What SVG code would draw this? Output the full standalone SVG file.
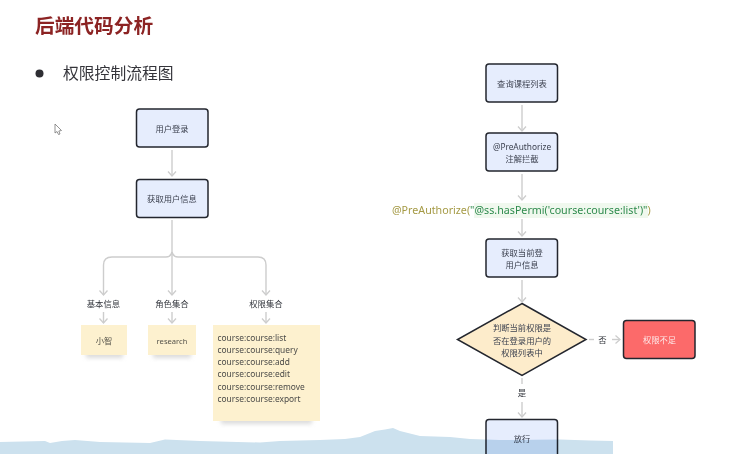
<svg xmlns="http://www.w3.org/2000/svg" width="754" height="454" viewBox="0 0 754 454">
<style>
text{font-family:"Noto Sans","Noto Sans CJK SC",sans-serif}
.n{fill:#e6edfd;stroke:#23262e;stroke-width:1.5}
.t{font-size:8.3px;fill:#3d4250;text-anchor:middle}
.l{font-size:8.400px;fill:#33363d;text-anchor:middle}
.c{fill:none;stroke:#cdcdcd;stroke-width:1.4}
.s{fill:#fdf1cf}
.sh{fill:#c4c4c4;opacity:.6;filter:url(#b)}
.p{font-size:8.400px;fill:#4a4a48}
</style>
<defs>
<filter id="b" x="-20%" y="-50%" width="140%" height="200%"><feGaussianBlur stdDeviation="2"/></filter>
<marker id="h" markerWidth="14" markerHeight="14" refX="10" refY="7" orient="auto" markerUnits="userSpaceOnUse" viewBox="0 0 14 14"><path d="M5.500 3 L10 7 L5.500 11" fill="none" stroke="#cdcdcd" stroke-width="1.3"/></marker>
</defs>
<rect width="754" height="454" fill="#fff"/>
<text x="35" y="33" font-size="19.700" font-weight="700" fill="#8c2323">后端代码分析</text>
<circle cx="39.500" cy="73.500" r="4" fill="#2e2e33"/>
<text x="63" y="79" font-size="15.800" fill="#34343a">权限控制流程图</text>
<path id="cursor" d="M55 124 L55 133 L57 131.500 L58.500 134.500 L60 134 L58.800 131 L61.500 130.500 Z" fill="#fff" stroke="#777" stroke-width=".8"/>

<g id="connectors">
<path class="c" marker-end="url(#h)" d="M172 150V176"/>
<path class="c" d="M172 220V252"/>
<path class="c" marker-end="url(#h)" d="M172 252V295"/>
<path class="c" marker-end="url(#h)" d="M172 252Q171 257 166 257H112Q103.500 257 103.500 265V295"/>
<path class="c" marker-end="url(#h)" d="M172 252Q173 257 178 257H258Q266 257 266 265V295"/>
<path class="c" marker-end="url(#h)" d="M103.500 312V323"/>
<path class="c" marker-end="url(#h)" d="M172 312V323"/>
<path class="c" marker-end="url(#h)" d="M266 312V323"/>
<path class="c" marker-end="url(#h)" d="M522 105V131"/>
<path class="c" marker-end="url(#h)" d="M522 174V200"/>
<path class="c" marker-end="url(#h)" d="M522 219V236"/>
<path class="c" marker-end="url(#h)" d="M522 280V302"/>
<path class="c" d="M522 378V384"/>
<path class="c" marker-end="url(#h)" d="M522 402V417"/>
<path class="c" d="M589 339.500H594"/>
<path class="c" marker-end="url(#h)" d="M612 339.500H620"/>
</g>

<g id="login"><rect class="n" x="136.500" y="109" width="71.500" height="38" rx="3"/><text class="t" x="172" y="132">用户登录</text></g>
<g id="getinfo"><rect class="n" x="136.500" y="179.500" width="71.500" height="38" rx="3"/><text class="t" x="172" y="202">获取用户信息</text></g>
<g id="label-basic"><text class="l" x="103.500" y="307">基本信息</text></g>
<g id="label-role"><text class="l" x="172" y="307">角色集合</text></g>
<g id="label-perm"><text class="l" x="266" y="307">权限集合</text></g>
<g id="note-name"><rect class="sh" x="86" y="350" width="37" height="8"/><rect class="s" x="81" y="325" width="46" height="30"/><text class="t" x="104" y="344" style="fill:#55534a">小智</text></g>
<g id="note-role"><rect class="sh" x="153" y="350" width="38" height="8"/><rect class="s" x="148" y="325" width="48" height="30"/><text class="t" x="172" y="344" style="fill:#55534a;font-size:7.600px">research</text></g>
<g id="note-perm"><rect class="sh" x="221" y="416" width="91" height="8"/><rect class="s" x="213" y="325" width="107" height="96"/>
<text class="p" x="217.500" y="341">course:course:list</text>
<text class="p" x="217.500" y="353">course:course:query</text>
<text class="p" x="217.500" y="365">course:course:add</text>
<text class="p" x="217.500" y="377">course:course:edit</text>
<text class="p" x="217.500" y="389.500">course:course:remove</text>
<text class="p" x="217.500" y="401.500">course:course:export</text></g>

<g id="query"><rect class="n" x="486" y="64" width="71.500" height="38" rx="3"/><text class="t" x="522" y="87">查询课程列表</text></g>
<g id="intercept"><rect class="n" x="486" y="133" width="71.500" height="38" rx="3"/><text class="t" x="522" y="150">@PreAuthorize</text><text class="t" x="522" y="162">注解拦截</text></g>
<g id="annotation"><rect x="474" y="203" width="174" height="15" fill="#f0f8ee"/><text x="392" y="214" font-size="10.700"><tspan fill="#a59a45">@PreAuthorize(</tspan><tspan fill="#2e8b4d">"@ss.hasPermi('course:course:list')"</tspan><tspan fill="#a59a45">)</tspan></text></g>
<g id="current"><rect class="n" x="486" y="239" width="71.500" height="38" rx="3"/><text class="t" x="522" y="255.500">获取当前登</text><text class="t" x="522" y="268">用户信息</text></g>
<g id="decision"><path d="M522 303.500L586 339.500L522 375.500L457.500 339.500Z" fill="#fdeccb" stroke="#23262e" stroke-width="1.500"/><text class="t" x="522" y="331">判断当前权限是</text><text class="t" x="522" y="343.500">否在登录用户的</text><text class="t" x="522" y="356">权限列表中</text></g>
<g id="denied"><rect x="623.500" y="320.500" width="71.500" height="38" rx="3" fill="#fc6a6a" stroke="#23262e" stroke-width="1.500"/><text class="t" x="659.500" y="343" style="fill:#fde8e8">权限不足</text></g>
<g id="label-no"><text class="l" x="602.500" y="343">否</text></g>
<g id="label-yes"><text class="l" x="522" y="396">是</text></g>
<g id="allow"><rect class="n" x="486" y="419.500" width="71.500" height="40" rx="3"/><text class="t" x="522" y="442">放行</text></g>

<path id="water" style="mix-blend-mode:multiply" fill="#cce1ee" d="M0 442L45 441L50 443L62 441L75 440L100 442L150 443L165 439.500L200 441L260 442.500L280 441L320 440L345 439L360 437L375 431L385 429.500L393 428L400 431L408 433L420 436L450 437L470 439L500 440L560 439.500L590 440.500L613 441V454H0Z"/>
</svg>
